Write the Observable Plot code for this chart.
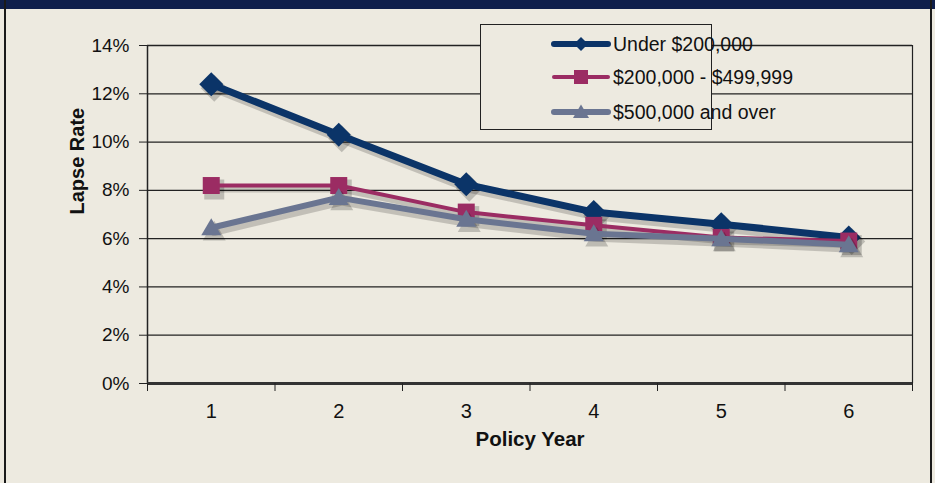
<!DOCTYPE html>
<html>
<head>
<meta charset="utf-8">
<script src="https://cdn.jsdelivr.net/npm/d3@7"></script>
<script src="https://cdn.jsdelivr.net/npm/@observablehq/plot@0.6"></script>
<style>
  html, body { margin: 0; padding: 0; background: #edeae0; }
  #wrap { position: relative; width: 935px; height: 483px; overflow: hidden; background: #edeae0; font-family: "Liberation Sans", Arial, sans-serif; }
  #topband { position: absolute; left: 0; top: 0; width: 935px; height: 9px; background: #0f1f4b; }
  .vborder { position: absolute; top: 0; width: 2px; height: 483px; background: #1a1a1a; }
  #chart { position: absolute; left: 0; top: 0; }
  #legend { position: absolute; left: 480px; top: 24px; width: 230px; height: 104px; border: 1.5px solid #222; background: #edeae0; }
  .lrow { position: absolute; left: 71px; height: 24px; display: flex; align-items: center; font-size: 19.5px; color: #111; white-space: nowrap; }
  .lrow svg { margin-right: 3px; overflow: visible; }
</style>
</head>
<body>
<div id="wrap">
  <div id="topband"></div>
  <div class="vborder" style="left:4px"></div>
  <div class="vborder" style="left:930px"></div>
  <div id="chart"></div>
  <div id="legend"></div>
</div>
<script>
// ---- data ----
const years = [1, 2, 3, 4, 5, 6];
const seriesNames = ["Under $200,000", "$200,000 - $499,999", "$500,000 and over"];
const under200k = [12.4, 10.3, 8.25, 7.1, 6.6, 6.05];
const mid200k = [8.2, 8.2, 7.1, 6.55, 6.05, 5.9];
const over500k = [6.45, 7.7, 6.8, 6.2, 6.0, 5.75];
const yTicks = [0, 2, 4, 6, 8, 10, 12, 14];
const colors = ["#0b3468", "#9b2c63", "#6a7591"];

const seriesValues = [under200k, mid200k, over500k];
const rows = seriesValues.flatMap((vals, s) =>
  years.map((yr, i) => ({ year: yr, rate: vals[i] / 100, series: seriesNames[s] })));
const boundaries = d3.range(years[0] - 0.5, years[years.length - 1] + 1, 1);

// custom symbols
const diamond = { draw(ctx, size) { const h = Math.sqrt(size / Math.PI); ctx.moveTo(0, -h); ctx.lineTo(h, 0); ctx.lineTo(0, h); ctx.lineTo(-h, 0); ctx.closePath(); } };
const square = { draw(ctx, size) { const h = Math.sqrt(size / Math.PI); ctx.rect(-h, -h, 2 * h, 2 * h); } };
const triangle = { draw(ctx, size) { const h = Math.sqrt(size / Math.PI); ctx.moveTo(0, -h * 0.95); ctx.lineTo(h, h * 0.75); ctx.lineTo(-h, h * 0.75); ctx.closePath(); } };
const symbols = [diamond, square, triangle];
const radii = [12, 8.5, 10];
const widths = [7, 4, 6];

const seriesMarks = seriesNames.flatMap((name, s) => {
  const d = rows.filter(r => r.series === name);
  return [
    Plot.line(d, { x: "year", y: "rate", stroke: "#000", strokeOpacity: 0.18, strokeWidth: widths[s] + 2, dx: 3, dy: 4 }),
    Plot.dot(d, { x: "year", y: "rate", fill: "#000", fillOpacity: 0.2, r: radii[s] + 1.5, symbol: symbols[s], dx: 3, dy: 4 }),
    Plot.line(d, { x: "year", y: "rate", stroke: colors[s], strokeWidth: widths[s] }),
    Plot.dot(d, { x: "year", y: "rate", fill: colors[s], r: radii[s], symbol: symbols[s] })
  ];
});

const chart = Plot.plot({
  width: 935,
  height: 483,
  marginLeft: 147,
  marginRight: 23,
  marginTop: 45,
  marginBottom: 100,
  style: { background: "transparent", fontFamily: "'Liberation Sans', Arial, sans-serif", fontSize: "19px", color: "#111" },
  x: { type: "linear", domain: [boundaries[0], boundaries[boundaries.length - 1]], label: null },
  y: { domain: [0, 0.14], label: null },
  marks: [
    Plot.gridY(yTicks.map(t => t / 100), { stroke: "#222", strokeOpacity: 1, strokeWidth: 1.3 }),
    Plot.ruleX([boundaries[boundaries.length - 1]], { stroke: "#222", strokeWidth: 1.2 }),
    Plot.ruleX([boundaries[0]], { stroke: "#222", strokeWidth: 1.5 }),
    Plot.ruleY([0], { stroke: "#333", strokeWidth: 3 }),
    Plot.axisY(yTicks.map(t => t / 100), { tickFormat: d3.format(".0%"), tickSize: 8, tickPadding: 10, stroke: "#222", fontSize: 19, label: null }),
    Plot.axisX(boundaries, { tickSize: 8, tickFormat: () => "", stroke: "#222", label: null }),
    Plot.axisX(years, { tickSize: 0, tickPadding: 20, fontSize: 20, tickFormat: d3.format("d"), label: null }),
    ...seriesMarks,
    Plot.text(["Lapse Rate"], { frameAnchor: "left", dx: -70, rotate: -90, fontWeight: "bold", fontSize: 20 }),
    Plot.text(["Policy Year"], { frameAnchor: "bottom", dy: 62, fontWeight: "bold", fontSize: 20.5 })
  ]
});
document.getElementById("chart").appendChild(chart);

// legend
const legend = d3.select("#legend");
const rowTops = [7, 40, 75];
seriesNames.forEach((name, s) => {
  const row = legend.append("div").attr("class", "lrow").style("top", rowTops[s] + "px");
  const svg = row.append("svg").attr("width", 58).attr("height", 24);
  svg.append("line").attr("x1", 2).attr("x2", 56).attr("y1", 12).attr("y2", 12)
    .attr("stroke", colors[s]).attr("stroke-width", s === 1 ? 4 : 6).attr("stroke-linecap", "round");
  const rr = s === 0 ? 7 : s === 1 ? 7 : 8;
  svg.append("path").attr("transform", "translate(29,12)")
    .attr("d", d3.symbol(symbols[s], Math.PI * rr * rr)())
    .attr("fill", colors[s]);
  row.append("span").text(name);
});
</script>
</body>
</html>
